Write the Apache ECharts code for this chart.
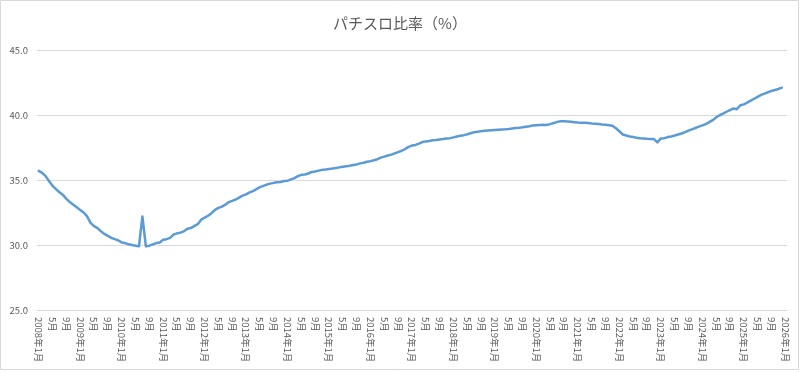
<!DOCTYPE html>
<html>
<head>
<meta charset="utf-8">
<script src="https://cdn.jsdelivr.net/npm/echarts@6/dist/echarts.min.js"></script>
<style>
html,body{margin:0;padding:0;background:#fff;}
#c{width:800px;height:372px;}
</style>
</head>
<body>
<div id="c"></div>
<script>
// Years and months for the category axis (2008年1月 .. 2026年1月)
var startYear = 2008;
var endYear = 2026;
var labelEvery = 4;

// Monthly pachislot share (%), one array per year
var v2008 = [35.7, 35.55, 35.3, 34.9, 34.55, 34.3, 34.05, 33.85, 33.55, 33.3, 33.1, 32.9];
var v2009 = [32.7, 32.5, 32.2, 31.7, 31.45, 31.3, 31.05, 30.85, 30.7, 30.55, 30.45, 30.35];
var v2010 = [30.2, 30.15, 30.05, 30.0, 29.95, 29.9, 32.2, 29.9, 29.95, 30.05, 30.15, 30.2];
var v2011 = [30.4, 30.45, 30.55, 30.8, 30.9, 30.95, 31.05, 31.25, 31.3, 31.45, 31.6, 31.95];
var v2012 = [32.1, 32.25, 32.45, 32.7, 32.85, 32.95, 33.1, 33.3, 33.4, 33.5, 33.65, 33.8];
var v2013 = [33.9, 34.05, 34.15, 34.3, 34.45, 34.55, 34.65, 34.72, 34.78, 34.82, 34.85, 34.92];
var v2014 = [34.95, 35.05, 35.15, 35.3, 35.4, 35.42, 35.5, 35.62, 35.65, 35.72, 35.78, 35.8];
var v2015 = [35.85, 35.88, 35.92, 35.97, 36.02, 36.06, 36.1, 36.15, 36.2, 36.28, 36.33, 36.4];
var v2016 = [36.45, 36.52, 36.6, 36.72, 36.8, 36.88, 36.95, 37.05, 37.15, 37.25, 37.38, 37.55];
var v2017 = [37.65, 37.7, 37.8, 37.92, 37.97, 38.0, 38.05, 38.08, 38.12, 38.15, 38.2, 38.22];
var v2018 = [38.28, 38.35, 38.4, 38.45, 38.52, 38.6, 38.68, 38.72, 38.75, 38.78, 38.8, 38.82];
var v2019 = [38.84, 38.86, 38.88, 38.9, 38.93, 38.97, 39.0, 39.02, 39.05, 39.1, 39.13, 39.2];
var v2020 = [39.22, 39.24, 39.25, 39.23, 39.3, 39.38, 39.47, 39.52, 39.52, 39.5, 39.48, 39.45];
var v2021 = [39.42, 39.4, 39.4, 39.38, 39.35, 39.33, 39.3, 39.27, 39.25, 39.22, 39.18, 38.98];
var v2022 = [38.75, 38.5, 38.42, 38.35, 38.3, 38.25, 38.22, 38.2, 38.17, 38.15, 38.15, 37.9];
var v2023 = [38.2, 38.22, 38.3, 38.35, 38.42, 38.5, 38.58, 38.68, 38.8, 38.9, 39.0, 39.1];
var v2024 = [39.2, 39.3, 39.45, 39.6, 39.82, 39.98, 40.1, 40.25, 40.38, 40.5, 40.45, 40.75];
var v2025 = [40.82, 40.95, 41.1, 41.25, 41.4, 41.55, 41.65, 41.75, 41.85, 41.92, 42.0, 42.1];
var v2026 = [null];

// Y axis ticks
var yMin = 25, yMax = 45, yStep = 5;

var values = [].concat(v2008, v2009, v2010, v2011, v2012, v2013, v2014, v2015, v2016,
  v2017, v2018, v2019, v2020, v2021, v2022, v2023, v2024, v2025, v2026);

var categories = [];
for (var y = startYear; y <= endYear; y++) {
  for (var m = 1; m <= 12; m++) {
    if (y === endYear && m > 1) break;
    categories.push(y + '年' + m + '月');
  }
}

var chart = echarts.init(document.getElementById('c'));
var font = '"Noto Sans CJK JP", "Noto Sans", sans-serif';
chart.setOption({
  animation: false,
  backgroundColor: '#fff',
  title: {
    text: 'パチスロ比率（%）',
    left: 'center',
    top: 11,
    textStyle: { color: '#595959', fontSize: 15, fontWeight: 'normal', fontFamily: font }
  },
  grid: { left: 37, right: 13, top: 50, bottom: 62, containLabel: false },
  xAxis: {
    type: 'category',
    data: categories,
    boundaryGap: true,
    axisLine: { show: true, lineStyle: { color: '#D9D9D9', width: 1 } },
    axisTick: { show: false },
    axisLabel: {
      interval: labelEvery - 1,
      rotate: -90,
      margin: 7,
      color: '#595959',
      fontSize: 9.5,
      fontFamily: font,
      formatter: function (val) {
        var mIdx = val.indexOf('年');
        var month = val.substring(mIdx + 1);
        return month === '1月' ? val : month;
      }
    },
    splitLine: { show: false }
  },
  yAxis: {
    type: 'value',
    min: yMin,
    max: yMax,
    interval: yStep,
    axisLine: { show: false },
    axisTick: { show: false },
    axisLabel: {
      color: '#595959',
      fontSize: 9.5,
      fontFamily: font,
      margin: 9,
      formatter: function (v) { return v.toFixed(1); }
    },
    splitLine: { lineStyle: { color: '#D9D9D9', width: 1 } }
  },
  series: [{
    type: 'line',
    data: values,
    showSymbol: false,
    symbol: 'none',
    smooth: false,
    lineStyle: { color: '#5B9BD5', width: 2.5, cap: 'round', join: 'round' },
    itemStyle: { color: '#5B9BD5' }
  }],
  graphic: [{
    type: 'rect',
    shape: { x: 0.5, y: 0.5, width: 798, height: 369 },
    style: { fill: 'none', stroke: '#D9D9D9', lineWidth: 1 },
    silent: true
  }]
});
</script>
</body>
</html>
